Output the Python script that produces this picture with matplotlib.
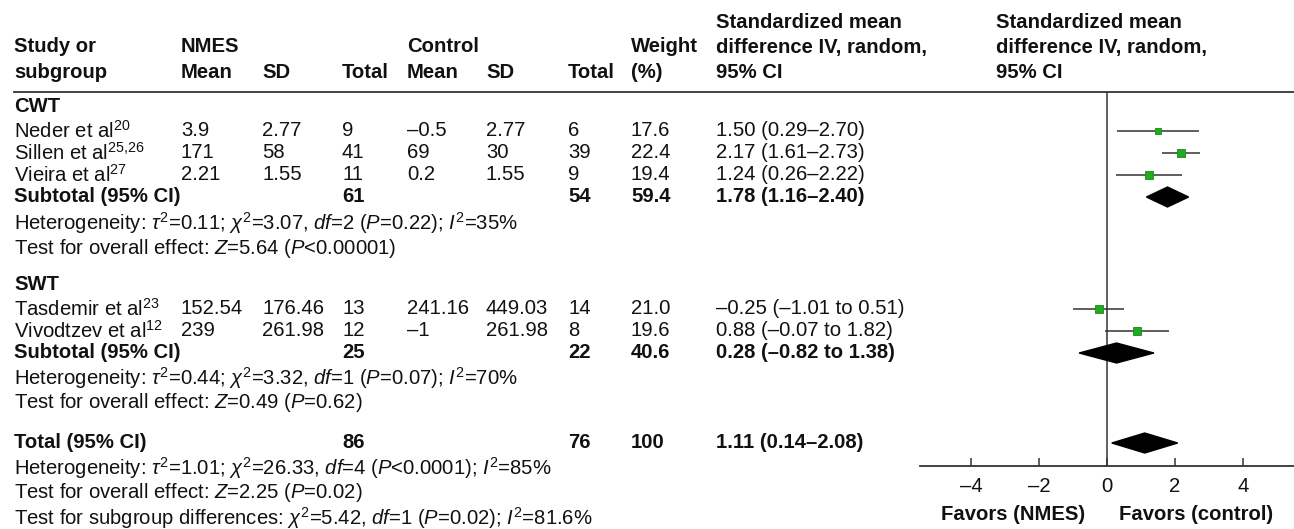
import matplotlib
matplotlib.use("Agg")
import matplotlib.pyplot as plt
from matplotlib.lines import Line2D
from matplotlib.patches import Polygon
from matplotlib.ticker import FixedLocator, FuncFormatter

plt.rcParams['font.family'] = ['Liberation Sans', 'DejaVu Sans']
plt.rcParams['mathtext.fontset'] = 'custom'
plt.rcParams['mathtext.rm'] = 'Liberation Sans'
plt.rcParams['mathtext.it'] = 'Liberation Sans:italic'
plt.rcParams['mathtext.bf'] = 'Liberation Sans:bold'

# ---------------- data ----------------
cwt_studies = ["Neder et al", "Sillen et al", "Vieira et al"]
cwt_refs = ["20", "25,26", "27"]
cwt_nmes_mean = ["3.9", "171", "2.21"]
cwt_nmes_sd = ["2.77", "58", "1.55"]
cwt_nmes_n = [9, 41, 11]
cwt_ctrl_mean = ["–0.5", "69", "0.2"]
cwt_ctrl_sd = ["2.77", "30", "1.55"]
cwt_ctrl_n = [6, 39, 9]
cwt_weight = [17.6, 22.4, 19.4]
cwt_smd = [1.50, 2.17, 1.24]
cwt_lo = [0.29, 1.61, 0.26]
cwt_hi = [2.70, 2.73, 2.22]

swt_studies = ["Tasdemir et al", "Vivodtzev et al"]
swt_refs = ["23", "12"]
swt_nmes_mean = ["152.54", "239"]
swt_nmes_sd = ["176.46", "261.98"]
swt_nmes_n = [13, 12]
swt_ctrl_mean = ["241.16", "–1"]
swt_ctrl_sd = ["449.03", "261.98"]
swt_ctrl_n = [14, 8]
swt_weight = [21.0, 19.6]
swt_smd = [-0.25, 0.88]
swt_lo = [-1.01, -0.07]
swt_hi = [0.51, 1.82]

# subtotal / total: [n_nmes, n_ctrl, weight, smd, lo, hi]
cwt_sub = [61, 54, 59.4, 1.78, 1.16, 2.40]
swt_sub = [25, 22, 40.6, 0.28, -0.82, 1.38]
total = [86, 76, 100, 1.11, 0.14, 2.08]

cwt_het = r"Heterogeneity: $\tau^2$=0.11; $\chi^2$=3.07, $df$=2 ($P$=0.22); $I^2$=35%"
cwt_eff = r"Test for overall effect: $Z$=5.64 ($P$<0.00001)"
swt_het = r"Heterogeneity: $\tau^2$=0.44; $\chi^2$=3.32, $df$=1 ($P$=0.07); $I^2$=70%"
swt_eff = r"Test for overall effect: $Z$=0.49 ($P$=0.62)"
tot_het = r"Heterogeneity: $\tau^2$=1.01; $\chi^2$=26.33, $df$=4 ($P$<0.0001); $I^2$=85%"
tot_eff = r"Test for overall effect: $Z$=2.25 ($P$=0.02)"
tot_sub = r"Test for subgroup differences: $\chi^2$=5.42, $df$=1 ($P$=0.02); $I^2$=81.6%"

xticks = [-4, -2, 0, 2, 4]
favors_left = "Favors (NMES)"
favors_right = "Favors (control)"

# ---------------- layout ----------------
W, H = 1294, 529
fig = plt.figure(figsize=(W / 100, H / 100), dpi=100)
FS = 14.6
col_x = [14, 181, 262, 342, 407, 486, 568, 631, 716]
forest_hdr_x = 996
TXT = '#111111'


def ftext(x, y, s, bold=False, **kw):
    fig.text(x / W, 1 - y / H, s, fontsize=kw.pop('fs', FS), color=TXT,
             fontweight='bold' if bold else 'normal',
             ha=kw.pop('ha', 'left'), va=kw.pop('va', 'center'), **kw)


def fmt(v):
    return f"{v:.2f}".replace('-', '–')


def ci_text(m, lo, hi):
    if lo < 0 or hi < 0:
        return f"{fmt(m)} ({fmt(lo)} to {fmt(hi)})"
    return f"{fmt(m)} ({fmt(lo)}–{fmt(hi)})"


# header
hy = [22, 47, 72]
ftext(col_x[0], hy[1], "Study or", True)
ftext(col_x[0], hy[2], "subgroup", True)
ftext(col_x[1], hy[1], "NMES", True)
ftext(col_x[1], hy[2], "Mean", True)
ftext(col_x[2], hy[2], "SD", True)
ftext(col_x[3], hy[2], "Total", True)
ftext(col_x[4], hy[1], "Control", True)
ftext(col_x[4], hy[2], "Mean", True)
ftext(col_x[5], hy[2], "SD", True)
ftext(col_x[6], hy[2], "Total", True)
ftext(col_x[7], hy[1], "Weight", True)
ftext(col_x[7], hy[2], "(%)", True)
for x in (col_x[8], forest_hdr_x):
    ftext(x, hy[0], "Standardized mean", True)
    ftext(x, hy[1], "difference IV, random,", True)
    ftext(x, hy[2], "95% CI", True)

fig.add_artist(Line2D([14 / W, 1.0], [1 - 92 / H, 1 - 92 / H], color='#333333', lw=1.3,
                      transform=fig.transFigure))

# forest axes: y data in pixel rows
ax_top, ax_bot = 92, 466
ax_left, ax_right = 920, 1294
ax = fig.add_axes([ax_left / W, 1 - ax_bot / H, (ax_right - ax_left) / W, (ax_bot - ax_top) / H])
ax.set_xlim(-5.5, 5.5)
ax.set_ylim(ax_bot, ax_top)
for s in ('top', 'right', 'left'):
    ax.spines[s].set_visible(False)
ax.spines['bottom'].set_color('#333333')
ax.spines['bottom'].set_linewidth(1.3)
ax.set_yticks([])
ax.xaxis.set_major_locator(FixedLocator(xticks))
ax.xaxis.set_major_formatter(FuncFormatter(lambda v, p: f"{v:.0f}".replace('-', '–')))
ax.tick_params(axis='x', direction='in', length=5.5, width=1.1, color='#333333',
               labelsize=FS, labelcolor=TXT, pad=8)
ax.axvline(0, color='#333333', lw=1.1)
ax.patch.set_alpha(0)


def study_row(y, name, ref, nm, nsd, nn, cm, csd, cn, w, m, lo, hi):
    ftext(col_x[0], y, name + r"$^{\mathregular{" + ref.replace(',', '{,}') + "}}$")
    ftext(col_x[1], y, nm)
    ftext(col_x[2], y, nsd)
    ftext(col_x[3], y, str(nn))
    ftext(col_x[4], y, cm)
    ftext(col_x[5], y, csd)
    ftext(col_x[6], y, str(cn))
    ftext(col_x[7], y, f"{w:.1f}")
    ftext(col_x[8], y, ci_text(m, lo, hi))
    ax.plot([lo, hi], [y, y], color='#333333', lw=1.1, solid_capstyle='butt', zorder=2)
    ax.plot([m], [y], marker='s', ms=5.2 * (w / 20) ** 0.5, color='#22aa22',
            mec='#178a17', mew=0.6, zorder=3)


def sub_row(y, label, vals, half=10):
    nn, cn, w, m, lo, hi = vals
    ftext(col_x[0], y, label, True)
    ftext(col_x[3], y, str(nn), True)
    ftext(col_x[6], y, str(cn), True)
    ftext(col_x[7], y, f"{w:.1f}" if w != 100 else "100", True)
    ftext(col_x[8], y, ci_text(m, lo, hi), True)
    ax.add_patch(Polygon([[lo, y], [m, y - half], [hi, y], [m, y + half]],
                         closed=True, color='black', zorder=3))


# CWT group
ftext(col_x[0], 107, "CWT", True)
ys = [131, 153, 175]
for i, y in enumerate(ys):
    study_row(y, cwt_studies[i], cwt_refs[i], cwt_nmes_mean[i], cwt_nmes_sd[i], cwt_nmes_n[i],
              cwt_ctrl_mean[i], cwt_ctrl_sd[i], cwt_ctrl_n[i], cwt_weight[i],
              cwt_smd[i], cwt_lo[i], cwt_hi[i])
sub_row(197, "Subtotal (95% CI)", cwt_sub)
ftext(col_x[0], 223, cwt_het)
ftext(col_x[0], 248, cwt_eff)

# SWT group
ftext(col_x[0], 285, "SWT", True)
ys = [309, 331]
for i, y in enumerate(ys):
    study_row(y, swt_studies[i], swt_refs[i], swt_nmes_mean[i], swt_nmes_sd[i], swt_nmes_n[i],
              swt_ctrl_mean[i], swt_ctrl_sd[i], swt_ctrl_n[i], swt_weight[i],
              swt_smd[i], swt_lo[i], swt_hi[i])
sub_row(353, "Subtotal (95% CI)", swt_sub)
ftext(col_x[0], 378, swt_het)
ftext(col_x[0], 403, swt_eff)

# Total
sub_row(443, "Total (95% CI)", total)
ftext(col_x[0], 468, tot_het)
ftext(col_x[0], 493, tot_eff)
ftext(col_x[0], 518, tot_sub)

ftext(1013, 515, favors_left, True, ha='center')
ftext(1196, 515, favors_right, True, ha='center')

fig.savefig("out.png", dpi=100)
